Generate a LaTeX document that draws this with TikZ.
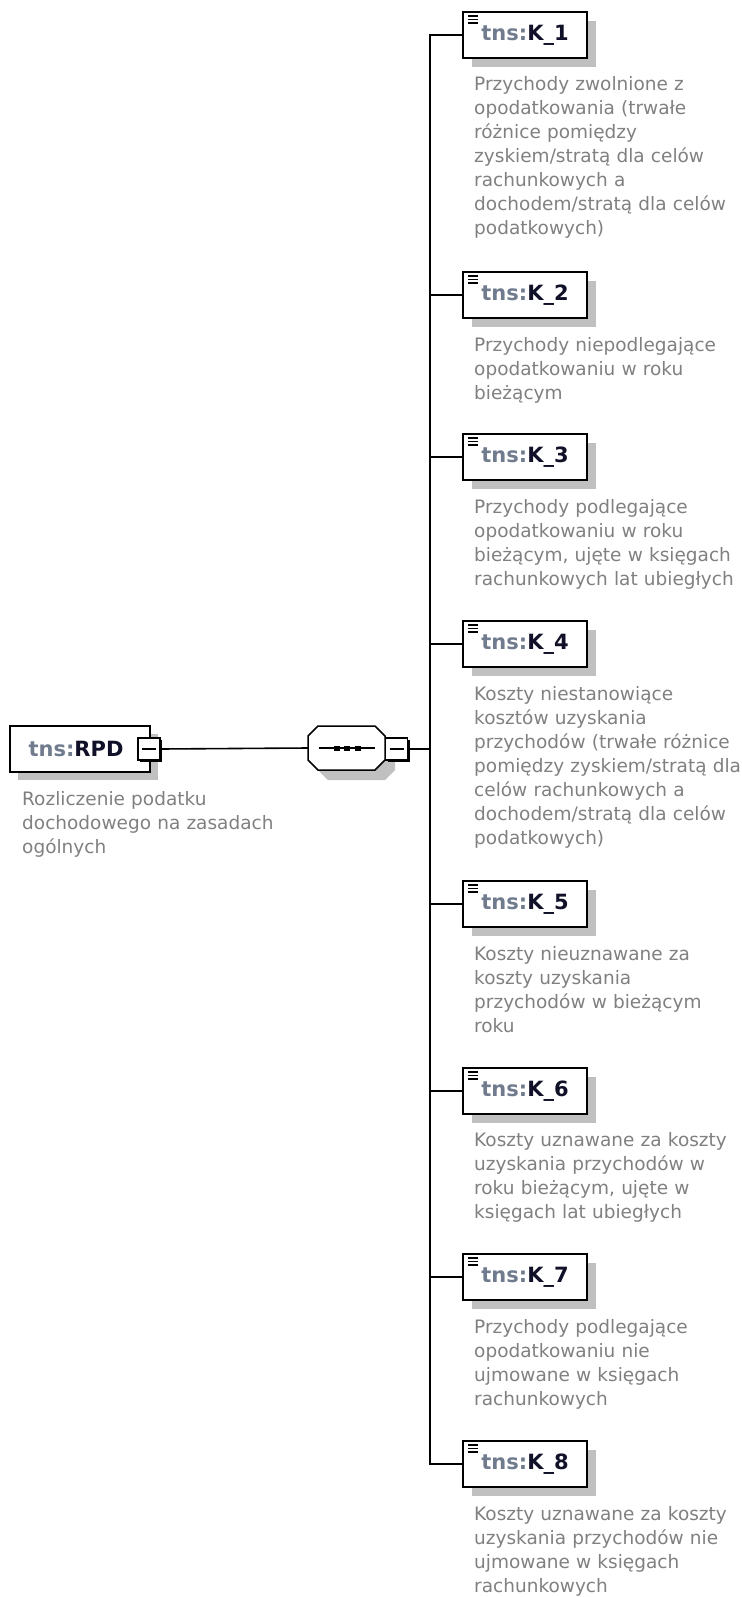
\documentclass[tikz,border=0pt]{standalone}
\usepackage{fontspec}
\setmainfont{DejaVu Sans}
\usepackage{tikz}
\usepackage{xcolor}
\usetikzlibrary{positioning, shadows}
\definecolor{xsdtext}{RGB}{128, 128, 128}
\definecolor{xsdprefix}{RGB}{112, 124, 142}
\definecolor{xsdname}{RGB}{16, 16, 40}
\definecolor{xsdshadow}{RGB}{192, 192, 192}
\newcommand{\tnsname}[1]{\bfseries{\color{xsdprefix}tns:}{\color{xsdname}#1}}
\newcommand{\seqoutline}{(-28.5,-22) -- (28.5,-22) -- (38.5,-12) -- (38.5,12) -- (28.5,22) -- (-28.5,22) -- (-38.5,12) -- (-38.5,-12) -- cycle}
\tikzset{
    boxbase/.style={rectangle, draw, line width=1.8pt, fill=white, minimum height=46pt, inner sep=0pt, font=\fontsize{21}{25}\selectfont},
    rootbox/.style={boxbase, minimum width=140pt, drop shadow={shadow xshift=8pt, shadow yshift=-8pt, fill=xsdshadow, opacity=1}},
    leafbox/.style={boxbase, minimum width=124pt, drop shadow={shadow xshift=9pt, shadow yshift=-9pt, fill=xsdshadow, opacity=1},
        path picture={
            \foreach \dy in {4,7.5,11}
                \draw[line width=1.3pt] ([xshift=5pt, yshift=-\dy pt]path picture bounding box.north west) -- ++(10pt,0pt);
        }},
    seqbox/.style={rectangle, minimum width=77pt, minimum height=44pt, inner sep=0pt},
    btn/.style={rectangle, draw, line width=1.3pt, fill=white, minimum size=22pt, inner sep=0pt,
        drop shadow={shadow xshift=2pt, shadow yshift=-2pt, fill=black, opacity=1},
        path picture={
            \draw[line width=1.3pt] ([xshift=-7pt]path picture bounding box.center) -- ([xshift=7pt]path picture bounding box.center);
        }},
    desc/.style={anchor=base west, text width=300pt, align=left, inner sep=0pt, text=xsdtext, font=\fontsize{18.5}{24}\selectfont},
    conn/.style={line width=1.6pt}
}
\begin{document}
\begin{tikzpicture}[x=1pt, y=-1pt]
    \useasboundingbox (0,0) rectangle (741,1597);
    % root element
    \node[rootbox] (rpd) at (80,749) {\tnsname{RPD}\hspace*{8pt}};
    \node[btn] (rpdbtn) at (149,749) {};
    \node[desc] (rpddesc) at (22,805) {Rozliczenie podatku\\dochodowego na zasadach\\ogólnych};
    % sequence
    \node[seqbox] (seq) at (346.5,748) {};
    \fill[xsdshadow, shift={(seq.center)}, xshift=10pt, yshift=-10pt] \seqoutline;
    \filldraw[fill=white, line width=1.5pt, shift={(seq.center)}] \seqoutline;
    \draw[conn] ([xshift=-28pt]seq.center) -- ([xshift=28pt]seq.center);
    \foreach \dx in {-10,0,11}
        \fill ([xshift=\dx pt]seq.center) ++(-3pt,-2.5pt) rectangle ++(6pt,5pt);
    \node[btn] (seqbtn) at (396.5,749) {};
    \coordinate (bus) at (430,749);
    % children
    \node[leafbox] (k1) at (525,35) {\tnsname{K\_1}};
    \node[desc] (k1desc) at (474,91) {Przychody zwolnione z\\opodatkowania (trwałe\\różnice pomiędzy\\zyskiem/stratą dla celów\\rachunkowych a\\dochodem/stratą dla celów\\podatkowych)};
    \node[leafbox] (k2) at (525,295) {\tnsname{K\_2}};
    \node[desc] (k2desc) at (474,351) {Przychody niepodlegające\\opodatkowaniu w roku\\bieżącym};
    \node[leafbox] (k3) at (525,457) {\tnsname{K\_3}};
    \node[desc] (k3desc) at (474,513) {Przychody podlegające\\opodatkowaniu w roku\\bieżącym, ujęte w księgach\\rachunkowych lat ubiegłych};
    \node[leafbox] (k4) at (525,644) {\tnsname{K\_4}};
    \node[desc] (k4desc) at (474,700) {Koszty niestanowiące\\kosztów uzyskania\\przychodów (trwałe różnice\\pomiędzy zyskiem/stratą dla\\celów rachunkowych a\\dochodem/stratą dla celów\\podatkowych)};
    \node[leafbox] (k5) at (525,904) {\tnsname{K\_5}};
    \node[desc] (k5desc) at (474,960) {Koszty nieuznawane za\\koszty uzyskania\\przychodów w bieżącym\\roku};
    \node[leafbox] (k6) at (525,1091) {\tnsname{K\_6}};
    \node[desc] (k6desc) at (474,1146) {Koszty uznawane za koszty\\uzyskania przychodów w\\roku bieżącym, ujęte w\\księgach lat ubiegłych};
    \node[leafbox] (k7) at (525,1277) {\tnsname{K\_7}};
    \node[desc] (k7desc) at (474,1333) {Przychody podlegające\\opodatkowaniu nie\\ujmowane w księgach\\rachunkowych};
    \node[leafbox] (k8) at (525,1464) {\tnsname{K\_8}};
    \node[desc] (k8desc) at (474,1520) {Koszty uznawane za koszty\\uzyskania przychodów nie\\ujmowane w księgach\\rachunkowych};
    % connectors
    \draw[conn] (rpdbtn.east) -- (seq.west);
    \draw[conn] (seqbtn.east) -- (bus);
    \draw[conn] (k1.west) -| (bus);
    \draw[conn] (k8.west) -| (bus);
    \draw[conn] (k2.west) -- (k2.west -| bus);
    \draw[conn] (k3.west) -- (k3.west -| bus);
    \draw[conn] (k4.west) -- (k4.west -| bus);
    \draw[conn] (k5.west) -- (k5.west -| bus);
    \draw[conn] (k6.west) -- (k6.west -| bus);
    \draw[conn] (k7.west) -- (k7.west -| bus);
\end{tikzpicture}
\end{document}
